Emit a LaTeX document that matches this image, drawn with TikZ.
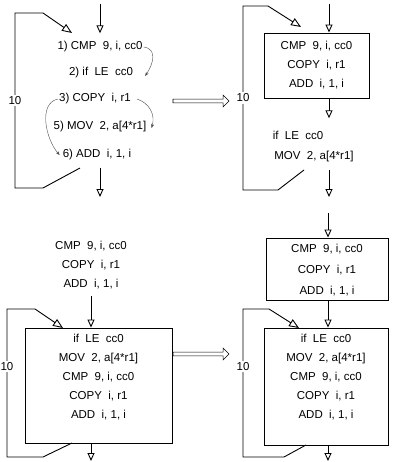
\documentclass[tikz,border=0pt]{standalone}
\usepackage{fontspec}
\setmainfont{Liberation Sans}
\usetikzlibrary{arrows.meta,shapes.arrows}

\begin{document}
\begin{tikzpicture}[
  x=1pt, y=-1pt,
  font=\fontsize{11.5}{19}\selectfont,
  ins/.style={inner sep=1pt, text height=8.5pt, text depth=2.5pt},
  txt/.style={align=center, inner sep=1pt, anchor=north},
  blk/.style={draw, line width=0.9pt, inner sep=0pt},
  flow/.style={line width=0.9pt, -{Triangle[open, length=8pt, width=7pt]}},
  back/.style={line width=0.9pt, -{Triangle[open, length=10pt, width=8pt]}},
  dep/.style={thin, black!70, -{Stealth[length=4pt, width=3pt]}},
  cnt/.style={fill=white, inner sep=1.5pt},
  xform/.style={draw, single arrow, single arrow head extend=4pt, inner sep=1.6pt,
    minimum height=56pt, line width=0.6pt}
]
\useasboundingbox (0,0) rectangle (392,462);

% original loop, numbered
\coordinate (tl-in) at (100,4);
\coordinate (tl-out) at (100,197);
\node[ins] (tl-1) at (100,47) {1) CMP\ \ 9, i, cc0};
\node[ins] (tl-2) at (101,73) {2) if\ \ LE\ \ cc0};
\node[ins] (tl-3) at (95,99) {3) COPY\ \ i, r1};
\node[ins] (tl-5) at (100,127) {5) MOV\ \ 2, a[4*r1]};
\node[ins] (tl-6) at (97,155) {6) ADD\ \ i, 1, i};
\draw[flow, shorten >=7pt] (tl-in) -- (tl-1.north);
\draw[flow, shorten <=6pt] (tl-6.south -| tl-in) -- (tl-out);
\coordinate (tl-from) at (80,168);
\coordinate (tl-to) at (72,33);
\draw[back] (tl-from) -- (43,188) -- (15,188) -- node[cnt]{10} (15,13) -- (43,13) -- (tl-to);
\draw[dep] (tl-1.east) .. controls +(14,2) and +(8,-12) .. ([xshift=11pt,yshift=-3pt]tl-2.east);
\draw[dep] ([xshift=5pt]tl-3.east) .. controls +(12,4) and +(4,-14) .. ([xshift=4pt,yshift=-1pt]tl-5.east);
\draw[dep] (tl-3.west) .. controls +(-20,4) and +(-14,-16) .. ([xshift=-2pt]tl-6.west);

\node[xform] (tf-top) at (200,101) {};

% after moving the test
\coordinate (tr-in) at (329,4);
\coordinate (tr-out) at (329,197);
\node[blk, minimum width=105pt, minimum height=65pt] (tr-blk) at (316.5,65.5) {};
\node[txt, yshift=-7pt] (tr-txt) at (tr-blk.north) {CMP\ \ 9, i, cc0\\COPY\ \ i, r1\\ADD\ \ i, 1, i};
\node[ins] (tr-if) at (298,137) {if\ \ LE\ \ cc0};
\node[ins] (tr-mov) at (314,157) {MOV\ \ 2, a[4*r1]};
\draw[flow] (tr-in) -- (tr-in |- tr-blk.north);
\draw[flow, shorten >=12pt] (tr-blk.south -| tr-in) -- (tr-in |- tr-if.north);
\draw[flow, shorten <=6pt] (tr-mov.south -| tr-in) -- (tr-out);
\coordinate (tr-from) at (304,170);
\coordinate (tr-to) at (301,27);
\draw[back] (tr-from) -- (278,190) -- (243,190) -- node[cnt]{10} (243,6) -- (268,6) -- (tr-to);

% rotated loop
\node[txt] (bl-pre) at (91,240) {CMP\ \ 9, i, cc0\\COPY\ \ i, r1\\ADD\ \ i, 1, i};
\node[blk, minimum width=147pt, minimum height=115pt] (bl-blk) at (98.5,385.5) {};
\node[txt, yshift=-5pt] (bl-txt) at (bl-blk.north)
  {if\ \ LE\ \ cc0\\MOV\ \ 2, a[4*r1]\\CMP\ \ 9, i, cc0\\COPY\ \ i, r1\\ADD\ \ i, 1, i};
\coordinate (bl-out) at (91,461);
\draw[flow, shorten <=6pt] (bl-pre.south) -- (bl-pre.south |- bl-blk.north);
\draw[flow] (bl-blk.south -| bl-pre) -- (bl-out);
\coordinate (bl-from) at (72,443);
\coordinate (bl-to) at (63,328);
\draw[back] (bl-from) -- (43,457) -- (7,457) -- node[cnt, pos=0.61]{10} (7,309) -- (35,309) -- (bl-to);

\node[xform] (tf-bot) at (200,354) {};

% with the prologue split off
\coordinate (br-in) at (328,213);
\coordinate (br-out) at (328,461);
\node[blk, minimum width=122pt, minimum height=62pt] (br-top) at (327,269) {};
\node[txt, yshift=-5pt, font=\fontsize{11.5}{21}\selectfont] (br-toptxt) at (br-top.north)
  {CMP\ \ 9, i, cc0\\COPY\ \ i, r1\\ADD\ \ i, 1, i};
\node[blk, minimum width=124pt, minimum height=117pt] (br-blk) at (326,386.5) {};
\node[txt, yshift=-5pt] (br-txt) at (br-blk.north)
  {if\ \ LE\ \ cc0\\MOV\ \ 2, a[4*r1]\\CMP\ \ 9, i, cc0\\COPY\ \ i, r1\\ADD\ \ i, 1, i};
\draw[flow] (br-in) -- (br-in |- br-top.north);
\draw[flow] (br-top.south -| br-in) -- (br-in |- br-blk.north);
\draw[flow] (br-blk.south -| br-in) -- (br-out);
\coordinate (br-from) at (306,445);
\coordinate (br-to) at (299,328);
\draw[back] (br-from) -- (284,457) -- (243,457) -- node[cnt, pos=0.61]{10} (243,309) -- (269,309) -- (br-to);
\end{tikzpicture}
\end{document}
